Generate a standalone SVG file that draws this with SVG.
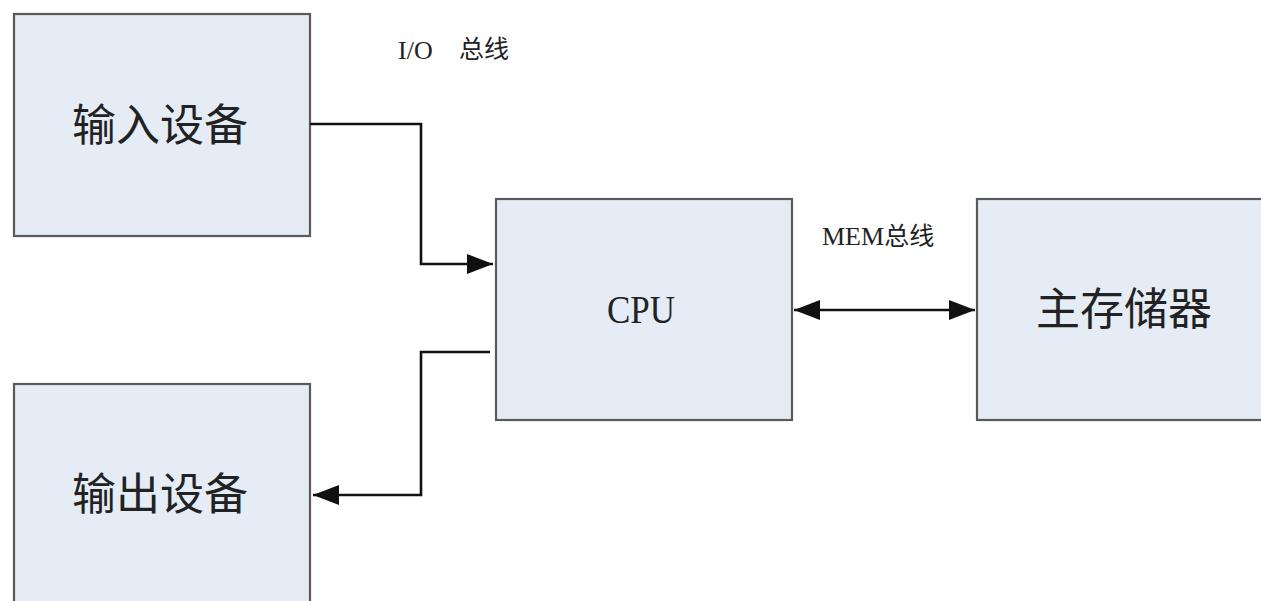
<svg xmlns="http://www.w3.org/2000/svg" width="1261" height="601" viewBox="0 0 1261 601">
<style>
.box{fill:#e5ecf5;stroke:#5a5a5a;stroke-width:2.2}
.lbl{font-family:"Noto Sans CJK SC",sans-serif;font-size:44px;fill:#222;text-anchor:middle;dominant-baseline:central}
.small{font-family:"Liberation Serif","Noto Sans CJK SC",serif;font-size:26px;fill:#222}
.cn{font-family:"Noto Sans CJK SC",sans-serif;font-size:25px}
.wire{fill:none;stroke:#111;stroke-width:2.6}
</style>
<defs>
<marker id="ah" viewBox="0 0 26 20" refX="26" refY="10" markerWidth="26" markerHeight="20" markerUnits="userSpaceOnUse" orient="auto-start-reverse">
<path d="M0,0 L26,10 L0,20 Z" fill="#111"/>
</marker>
</defs>
<rect width="1261" height="601" fill="#ffffff"/>
<g id="input">
<rect class="box" x="14" y="14" width="296" height="222"/>
<text class="lbl" x="160" y="122">输入设备</text>
</g>
<g id="output">
<rect class="box" x="14" y="384" width="296" height="240"/>
<text class="lbl" x="160" y="491">输出设备</text>
</g>
<g id="cpu">
<rect class="box" x="496" y="199" width="296" height="221"/>
<text x="641" y="323" font-family="Liberation Serif,serif" font-size="40" fill="#222" text-anchor="middle" textLength="68" lengthAdjust="spacingAndGlyphs">CPU</text>
</g>
<g id="memory">
<rect class="box" x="977" y="199" width="300" height="221"/>
<text class="lbl" x="1124" y="306">主存储器</text>
</g>
<g id="connectors">
<polyline class="wire" points="310,124 421,124 421,264 493,264" marker-end="url(#ah)"/>
<polyline class="wire" points="490,352 421,352 421,495 313,495" marker-end="url(#ah)"/>
<line class="wire" x1="794" y1="310" x2="975" y2="310" marker-start="url(#ah)" marker-end="url(#ah)"/>
</g>
<g id="labels">
<text class="small" x="398" y="59">I/O <tspan class="cn" x="459" y="58">总线</tspan></text>
<text class="small" x="822" y="245" font-size="22">MEM<tspan class="cn">总线</tspan></text>
</g>
</svg>
